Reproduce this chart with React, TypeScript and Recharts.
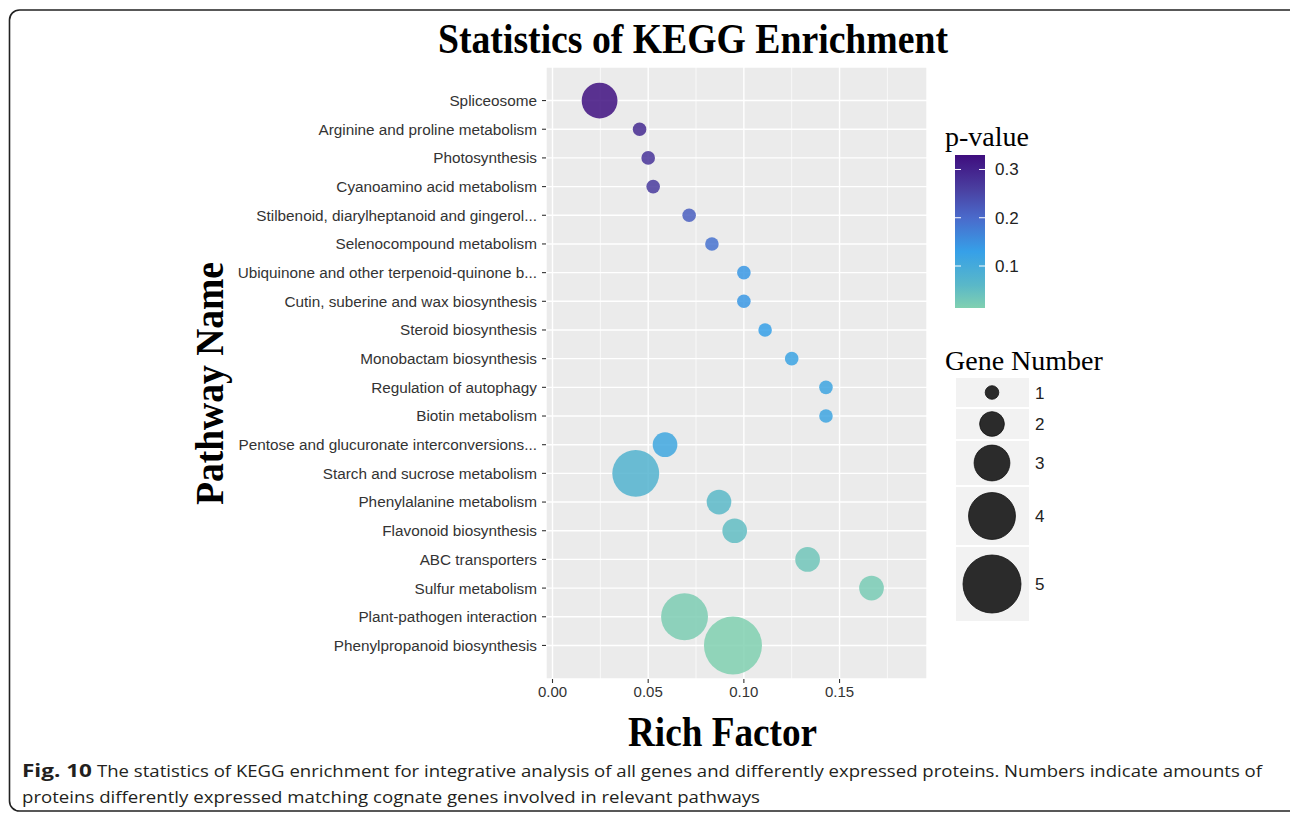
import { CartesianGrid, Scatter, ScatterChart, XAxis, YAxis } from "recharts";

const pathways = [
  "Spliceosome",
  "Arginine and proline metabolism",
  "Photosynthesis",
  "Cyanoamino acid metabolism",
  "Stilbenoid, diarylheptanoid and gingerol...",
  "Selenocompound metabolism",
  "Ubiquinone and other terpenoid-quinone b...",
  "Cutin, suberine and wax biosynthesis",
  "Steroid biosynthesis",
  "Monobactam biosynthesis",
  "Regulation of autophagy",
  "Biotin metabolism",
  "Pentose and glucuronate interconversions...",
  "Starch and sucrose metabolism",
  "Phenylalanine metabolism",
  "Flavonoid biosynthesis",
  "ABC transporters",
  "Sulfur metabolism",
  "Plant-pathogen interaction",
  "Phenylpropanoid biosynthesis",
];
const richFactor = [
  0.0246, 0.0455, 0.05, 0.0526, 0.0714, 0.0833, 0.1, 0.1, 0.1111, 0.125,
  0.1429, 0.1429, 0.0588, 0.0435, 0.087, 0.0952, 0.1333, 0.1667, 0.069, 0.0943,
];
const geneNumber = [3, 1, 1, 1, 1, 1, 1, 1, 1, 1, 1, 1, 2, 4, 2, 2, 2, 2, 4, 5];
const pValue = [
  0.325, 0.29, 0.275, 0.265, 0.215, 0.19, 0.14, 0.14, 0.13, 0.12,
  0.115, 0.115, 0.11, 0.075, 0.06, 0.05, 0.032, 0.022, 0.018, 0.013,
];

const xTicks = [0, 0.05, 0.1, 0.15];
const xMinor = [0.025, 0.075, 0.125, 0.175];
const pTicks = [0.1, 0.2, 0.3];
const sizeKeys = [1, 2, 3, 4, 5];

// colour ramp for p-value, low -> high
const rampP = [0.013, 0.06, 0.13, 0.2, 0.26, 0.33];
const rampColor = ["#80d0b0", "#5ab8c8", "#36a0e8", "#4a6acb", "#4a3fa0", "#3f0d7e"];

const SERIF = "'Liberation Serif', 'Times New Roman', serif";
const SANS = "'Liberation Sans', Arial, sans-serif";

const data = pathways.map((name, i) => ({
  name,
  y: i,
  x: richFactor[i],
  genes: geneNumber[i],
  p: pValue[i],
}));

function hex(c: string) {
  return [1, 3, 5].map((k) => parseInt(c.slice(k, k + 2), 16));
}

function pColor(p: number) {
  const v = Math.min(Math.max(p, rampP[0]), rampP[rampP.length - 1]);
  let k = 0;
  while (k < rampP.length - 2 && v > rampP[k + 1]) k++;
  const t = (v - rampP[k]) / (rampP[k + 1] - rampP[k]);
  const a = hex(rampColor[k]);
  const b = hex(rampColor[k + 1]);
  const rgb = a.map((av, j) => Math.round(av + (b[j] - av) * t));
  return `rgb(${rgb.join(",")})`;
}

// bubble radius grows linearly with gene count
const radius = (n: number) => 6.8 + 5.55 * (n - 1);

const Bubble = (props: any) => {
  const { cx, cy, payload } = props;
  if (cx == null || cy == null) return null;
  return (
    <circle
      cx={cx}
      cy={cy}
      r={radius(payload.genes)}
      fill={pColor(payload.p)}
      fillOpacity={0.85}
    />
  );
};

// colour bar geometry
const barX = 955;
const barW = 30;
const barTop = 155;
const barH = 153;
const barY = (p: number) =>
  barTop + barH - ((p - rampP[0]) / (rampP[rampP.length - 1] - rampP[0])) * barH;

// size legend key heights
const keyH = [29, 30, 44, 58, 74];

function Legends() {
  let y = 378;
  const keys = sizeKeys.map((n, i) => {
    const top = y;
    y += keyH[i] + 2;
    const cy = top + keyH[i] / 2;
    return (
      <g key={n}>
        <rect x={956} y={top} width={73} height={keyH[i]} fill="#f2f2f2" />
        <circle cx={992} cy={cy} r={radius(n)} fill="#2b2b2b" stroke="#111" strokeWidth={0.8} />
        <text x={1035} y={cy + 6} fontSize={17} fontFamily={SANS} fill="#222">
          {n}
        </text>
      </g>
    );
  });
  return (
    <g>
      <defs>
        <linearGradient id="pbar" x1="0" y1="1" x2="0" y2="0">
          {rampP.map((p, i) => (
            <stop
              key={p}
              offset={(p - rampP[0]) / (rampP[rampP.length - 1] - rampP[0])}
              stopColor={rampColor[i]}
            />
          ))}
        </linearGradient>
      </defs>
      <text x={945} y={146} fontSize={28} fontFamily={SERIF} fill="#000">
        p-value
      </text>
      <rect x={barX} y={barTop} width={barW} height={barH} fill="url(#pbar)" />
      {pTicks.map((t) => (
        <g key={t}>
          <line x1={barX} x2={barX + 6} y1={barY(t)} y2={barY(t)} stroke="#fff" strokeWidth={1} />
          <line x1={barX + barW - 6} x2={barX + barW} y1={barY(t)} y2={barY(t)} stroke="#fff" strokeWidth={1} />
          <text x={995} y={barY(t) + 6} fontSize={17} fontFamily={SANS} fill="#222">
            {t.toFixed(1)}
          </text>
        </g>
      ))}
      <text x={945} y={370} fontSize={28} fontFamily={SERIF} fill="#000">
        Gene Number
      </text>
      {keys}
    </g>
  );
}

export default function App() {
  return (
    <div style={{ position: "absolute", left: 0, top: 0, width: 1290, height: 814, background: "#fff" }}>
      <ScatterChart
        width={1290}
        height={814}
        margin={{ top: 67, right: 363, bottom: 105, left: 246 }}
      >
        <CartesianGrid fill="#ebebeb" fillOpacity={1} stroke="#fff" strokeWidth={1.4} />
        <CartesianGrid horizontal={false} verticalValues={xMinor} stroke="#fff" strokeWidth={0.7} />
        <XAxis
          type="number"
          dataKey="x"
          domain={[-0.0034, 0.1957]}
          allowDataOverflow
          ticks={xTicks}
          tickFormatter={(v: number) => v.toFixed(2)}
          height={30}
          axisLine={false}
          tickSize={4}
          tickMargin={3}
          tickLine={{ stroke: "#333", strokeWidth: 1.1 }}
          tick={{ fill: "#333", fontSize: 15, fontFamily: SANS }}
        />
        <YAxis
          type="number"
          dataKey="y"
          domain={[-1.17, 20.17]}
          allowDataOverflow
          reversed
          ticks={pathways.map((_, i) => i)}
          interval={0}
          tickFormatter={(i: number) => pathways[i] ?? ""}
          width={300}
          axisLine={false}
          tickSize={4}
          tickMargin={5}
          tickLine={{ stroke: "#333", strokeWidth: 1.1 }}
          tick={{ fill: "#333", fontSize: 15.3, fontFamily: SANS }}
        />
        <Scatter data={data} shape={Bubble} isAnimationActive={false} />
      </ScatterChart>
      <svg
        width={1290}
        height={814}
        style={{ position: "absolute", left: 0, top: 0, pointerEvents: "none" }}
      >
        <rect x={9.5} y={10} width={1290} height={801} rx={10} fill="none" stroke="#222" strokeWidth={1.6} />
        <text
          x={693}
          y={53}
          textAnchor="middle"
          fontSize={43}
          fontWeight="bold"
          fontFamily={SERIF}
          textLength={510}
          lengthAdjust="spacingAndGlyphs"
        >
          Statistics of KEGG Enrichment
        </text>
        <text
          x={722.5}
          y={746}
          textAnchor="middle"
          fontSize={43}
          fontWeight="bold"
          fontFamily={SERIF}
          textLength={189}
          lengthAdjust="spacingAndGlyphs"
        >
          Rich Factor
        </text>
        <text
          transform="translate(223 383.5) rotate(-90)"
          textAnchor="middle"
          fontSize={41}
          fontWeight="bold"
          fontFamily={SERIF}
          textLength={243}
          lengthAdjust="spacingAndGlyphs"
        >
          Pathway Name
        </text>
        <Legends />
        <text x={22} y={777} fontSize={17} fontWeight="bold" fontFamily="'Open Sans', sans-serif" fill="#231f20" textLength={70} lengthAdjust="spacingAndGlyphs">
          Fig. 10
        </text>
        <text x={97} y={777} fontSize={17} fontFamily="'Open Sans', sans-serif" fill="#231f20" textLength={1165} lengthAdjust="spacingAndGlyphs">
          The statistics of KEGG enrichment for integrative analysis of all genes and differently expressed proteins. Numbers indicate amounts of
        </text>
        <text x={22} y={803} fontSize={17} fontFamily="'Open Sans', sans-serif" fill="#231f20" textLength={738} lengthAdjust="spacingAndGlyphs">
          proteins differently expressed matching cognate genes involved in relevant pathways
        </text>
      </svg>
    </div>
  );
}
